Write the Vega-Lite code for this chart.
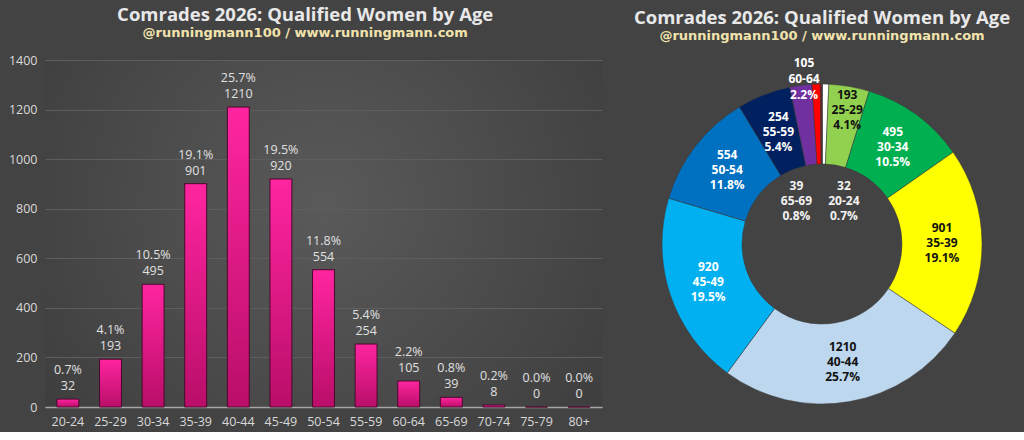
{
  "$schema": "https://vega.github.io/schema/vega-lite/v6.json",
  "background": "#434343",
  "padding": {"left": 8, "top": 5, "right": 2, "bottom": 4},
  "config": {
    "font": "Open Sans",
    "view": {"stroke": null},
    "title": {
      "font": "Open Sans",
      "fontSize": 18.5,
      "fontWeight": "bold",
      "color": "#e8e8e8",
      "subtitleFont": "DejaVu Sans",
      "subtitleFontSize": 13,
      "subtitleFontWeight": "bold",
      "subtitleColor": "#f2e3ad",
      "subtitlePadding": 3,
      "anchor": "middle",
      "frame": "bounds"
    }
  },
  "datasets": {
    "ages": [
      {"ord": 1, "age": "20-24", "count": 32, "pct": 0.7},
      {"ord": 2, "age": "25-29", "count": 193, "pct": 4.1},
      {"ord": 3, "age": "30-34", "count": 495, "pct": 10.5},
      {"ord": 4, "age": "35-39", "count": 901, "pct": 19.1},
      {"ord": 5, "age": "40-44", "count": 1210, "pct": 25.7},
      {"ord": 6, "age": "45-49", "count": 920, "pct": 19.5},
      {"ord": 7, "age": "50-54", "count": 554, "pct": 11.8},
      {"ord": 8, "age": "55-59", "count": 254, "pct": 5.4},
      {"ord": 9, "age": "60-64", "count": 105, "pct": 2.2},
      {"ord": 10, "age": "65-69", "count": 39, "pct": 0.8},
      {"ord": 11, "age": "70-74", "count": 8, "pct": 0.2},
      {"ord": 12, "age": "75-79", "count": 0, "pct": 0.0},
      {"ord": 13, "age": "80+", "count": 0, "pct": 0.0}
    ]
  },
  "spacing": 20,
  "hconcat": [
    {
      "width": 557,
      "height": 347,
      "title": {"text": "Comrades 2026: Qualified Women by Age", "subtitle": "@runningmann100 / www.runningmann.com", "offset": 14},
      "view": {
        "stroke": null,
        "fill": {
          "gradient": "radial",
          "x1": 0.5, "y1": 0.45, "r1": 0,
          "x2": 0.5, "y2": 0.45, "r2": 0.75,
          "stops": [
            {"offset": 0, "color": "#5a5a5a"},
            {"offset": 1, "color": "#383838"}
          ]
        }
      },
      "data": {"name": "ages"},
      "transform": [
        {"calculate": "format(datum.pct, '.1f') + '%'", "as": "pctLabel"}
      ],
      "encoding": {
        "x": {
          "field": "age",
          "type": "ordinal",
          "sort": null,
          "title": null,
          "scale": {"paddingInner": 0.485, "paddingOuter": 0.28},
          "axis": {
            "labelAngle": 0,
            "labelColor": "#d9d9d9",
            "labelFontSize": 12.5,
            "labelPadding": 8,
            "ticks": false,
            "domainColor": "#a6a6a6",
            "domainWidth": 1.5
          }
        },
        "y": {
          "field": "count",
          "type": "quantitative",
          "title": null,
          "scale": {"domain": [0, 1400]},
          "axis": {
            "values": [0, 200, 400, 600, 800, 1000, 1200, 1400],
            "format": "d",
            "grid": true,
            "gridColor": "#5e5e5e",
            "gridWidth": 1,
            "domain": false,
            "ticks": false,
            "labelColor": "#d9d9d9",
            "labelFontSize": 12.5,
            "labelPadding": 8
          }
        }
      },
      "layer": [
        {
          "mark": {
            "type": "bar",
            "stroke": "#4a0a2c",
            "strokeWidth": 1,
            "color": {
              "gradient": "linear",
              "x1": 0, "y1": 0, "x2": 0, "y2": 1,
              "stops": [
                {"offset": 0, "color": "#ff25a0"},
                {"offset": 1, "color": "#b90e69"}
              ]
            }
          }
        },
        {
          "mark": {"type": "text", "baseline": "bottom", "dy": -6, "fontSize": 12.5, "color": "#e0e0e0"},
          "encoding": {"text": {"field": "count"}}
        },
        {
          "mark": {"type": "text", "baseline": "bottom", "dy": -22, "fontSize": 12.5, "color": "#e0e0e0"},
          "encoding": {"text": {"field": "pctLabel"}}
        }
      ]
    },
    {
      "width": 400,
      "height": 368,
      "title": {"text": "Comrades 2026: Qualified Women by Age", "subtitle": "@runningmann100 / www.runningmann.com", "offset": 13},
      "data": {"name": "ages"},
      "transform": [
        {"calculate": "datum.count + '\\n' + datum.age + '\\n' + format(datum.pct, '.1f') + '%'", "as": "pieLabel"}
      ],
      "encoding": {
        "theta": {"field": "count", "type": "quantitative", "stack": true},
        "order": {"field": "ord", "type": "quantitative"}
      },
      "layer": [
        {
          "mark": {"type": "arc", "outerRadius": 160, "innerRadius": 80, "stroke": "#3a3a3a", "strokeWidth": 0.5},
          "encoding": {
            "color": {
              "field": "age",
              "type": "nominal",
              "legend": null,
              "scale": {
                "domain": ["20-24", "25-29", "30-34", "35-39", "40-44", "45-49", "50-54", "55-59", "60-64", "65-69", "70-74", "75-79", "80+"],
                "range": ["#ffffff", "#92d050", "#00b050", "#ffff00", "#bdd7ee", "#00b0f0", "#0070c0", "#002060", "#7030a0", "#ff0000", "#c00000", "#7f7f7f", "#a5a5a5"]
              }
            }
          }
        },
        {
          "mark": {"type": "text", "radius": 120, "fontWeight": "bold", "fontSize": 12, "lineBreak": "\n", "lineHeight": 15, "baseline": "middle", "dy": -15},
          "encoding": {
            "text": {"condition": {"test": "datum.count >= 250", "field": "pieLabel"}, "value": ""},
            "color": {"condition": {"test": "indexof(['35-39', '40-44'], datum.age) >= 0", "value": "#111111"}, "value": "#ffffff"}
          }
        },
        {
          "mark": {"type": "text", "radius": 136, "fontWeight": "bold", "fontSize": 12, "lineBreak": "\n", "lineHeight": 15, "baseline": "middle", "dy": -15, "dx": 2, "color": "#111111"},
          "encoding": {
            "text": {"condition": {"test": "datum.age == '25-29'", "field": "pieLabel"}, "value": ""}
          }
        },
        {
          "mark": {"type": "text", "radius": 166, "fontWeight": "bold", "fontSize": 12, "lineBreak": "\n", "lineHeight": 16, "baseline": "middle", "dy": -16, "dx": 4, "color": "#ffffff"},
          "encoding": {
            "text": {"condition": {"test": "datum.age == '60-64'", "field": "pieLabel"}, "value": ""}
          }
        },
        {
          "mark": {"type": "text", "radius": 43, "fontWeight": "bold", "fontSize": 12, "lineBreak": "\n", "lineHeight": 15, "baseline": "middle", "dy": -15, "dx": -24, "color": "#f2f2f2"},
          "encoding": {
            "text": {"condition": {"test": "datum.age == '65-69'", "field": "pieLabel"}, "value": ""}
          }
        },
        {
          "mark": {"type": "text", "radius": 43, "fontWeight": "bold", "fontSize": 12, "lineBreak": "\n", "lineHeight": 15, "baseline": "middle", "dy": -15, "dx": 21, "color": "#f2f2f2"},
          "encoding": {
            "text": {"condition": {"test": "datum.age == '20-24'", "field": "pieLabel"}, "value": ""}
          }
        }
      ]
    }
  ]
}
